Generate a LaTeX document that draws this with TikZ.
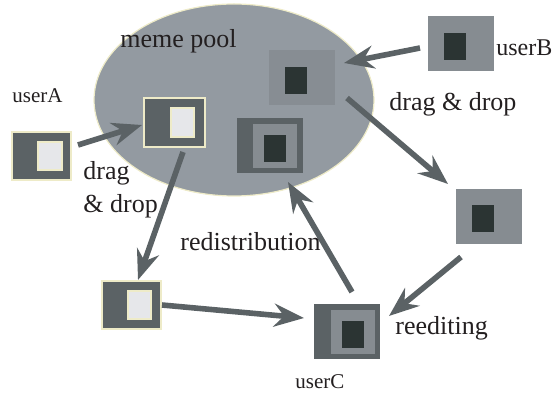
\documentclass[tikz,border=0pt]{standalone}
\usepackage{fontspec}
\setmainfont{Liberation Serif}
\usetikzlibrary{arrows.meta,calc,shapes.geometric}
\definecolor{pool}{HTML}{939AA1}
\definecolor{dk}{HTML}{5B6265}
\definecolor{md}{HTML}{868C91}
\definecolor{pbx}{HTML}{878D93}
\definecolor{vd}{HTML}{2B3433}
\definecolor{lt}{HTML}{E6E7EA}
\definecolor{cream}{HTML}{EEEBC8}
\definecolor{txt}{HTML}{231F20}
\tikzset{
  box/.style={rectangle, inner sep=0pt, outer sep=0pt},
  sq/.style 2 args={minimum width=#1*0.5pt, minimum height=#2*0.5pt},
  rim/.style={draw=cream, line width=0.6pt},
  arr/.style={draw=dk, line width=2.8pt, -{Stealth[length=15pt,width=11.5pt,inset=5pt]}},
  big/.style={text=txt, font=\fontsize{13}{15}\selectfont, inner sep=0pt},
  small/.style={text=txt, font=\fontsize{10.5}{12}\selectfont, inner sep=0pt},
}
\begin{document}
\begin{tikzpicture}[x=0.5pt,y=-0.5pt]
\useasboundingbox (0,0) rectangle (552,394);
% meme pool
\node[ellipse, draw=cream, line width=0.6pt, fill=pool, inner sep=0pt, minimum width=140pt, minimum height=96pt] (pool) at (234,100) {};
% userA square
\node[box, rim, fill=dk, sq={59}{48}] (uA) at (41.5,156) {};
\node[box, rim, fill=lt, sq={24}{28}] (uAi) at (50,156) {};
% copy in pool
\node[box, rim, fill=dk, sq={61}{49}] (pA) at (174.5,122.5) {};
\node[box, rim, fill=lt, sq={23}{29}] (pAi) at (182.5,122.5) {};
% copy lower left
\node[box, rim, fill=dk, sq={59}{48}] (dA) at (131.5,305) {};
\node[box, rim, fill=lt, sq={23}{28}] (dAi) at (139.5,305) {};
% userC
\node[box, fill=dk, sq={66}{55}] (uC) at (347,331.5) {};
\node[box, fill=md, sq={44}{44}] (uCm) at (353,332) {};
\node[box, fill=vd, sq={22}{27}] (uCi) at (353,334.5) {};
% userC work in pool
\node[box, fill=dk, sq={66}{55}] (pC) at (270,145.5) {};
\node[box, fill=md, sq={44}{44}] (pCm) at (275,146) {};
\node[box, fill=vd, sq={22}{27}] (pCi) at (275,148.5) {};
% userB
\node[box, fill=md, sq={66}{55}] (uB) at (461,43.5) {};
\node[box, fill=vd, sq={22}{27}] (uBi) at (455,46.5) {};
% userB copy in pool
\node[box, fill=pbx, sq={66}{55}] (pB) at (302,77.5) {};
\node[box, fill=vd, sq={22}{27}] (pBi) at (296,80.5) {};
% copy right
\node[box, fill=md, sq={66}{55}] (dB) at (489,216.5) {};
\node[box, fill=vd, sq={22}{27}] (dBi) at (483,218.5) {};
% arrows
\draw[arr] ([shift={(7,-11)}]uA.east) -- ([shift={(-2,2.5)}]pA.west);
\draw[arr] ([shift={(8.5,5)}]pA.south) -- ([shift={(6.5,-1)}]dA.north);
\draw[arr] ([shift={(1,0)}]dA.east) -- ([shift={(-10,-13.5)}]uC.west);
\draw[arr] ([shift={(5,-12)}]uC.north) -- ([shift={(18,9)}]pC.south);
\draw[arr] ([shift={(-8,4.5)}]uB.west) -- ([shift={(9,-14.5)}]pB.east);
\draw[arr] ([shift={(12,20.5)}]pB.east) -- ([shift={(-8,-5)}]dB.north west);
\draw[arr] ([shift={(-28,13)}]dB.south) -- ([shift={(9,-15.5)}]uC.east);
% labels
\node[big, anchor=base west] (lpool) at (120,48) {meme pool};
\node[small, anchor=base west] (luA) at (12,103) {userA};
\node[small, font=\fontsize{12}{14}\selectfont, anchor=base west] (luB) at (496,56) {userB};
\node[small, anchor=base west] (luC) at (295,389) {userC};
\node[big, anchor=base west] (ldd1) at (83,180) {drag};
\node[big, anchor=base west] (ldd2) at (83,213) {\&\ drop};
\node[big, anchor=base west] (ldd3) at (389,111) {drag \& drop};
\node[big, anchor=base west] (lred) at (180,251) {redistribution};
\node[big, anchor=base west] (lree) at (395,335) {reediting};
\end{tikzpicture}
\end{document}
